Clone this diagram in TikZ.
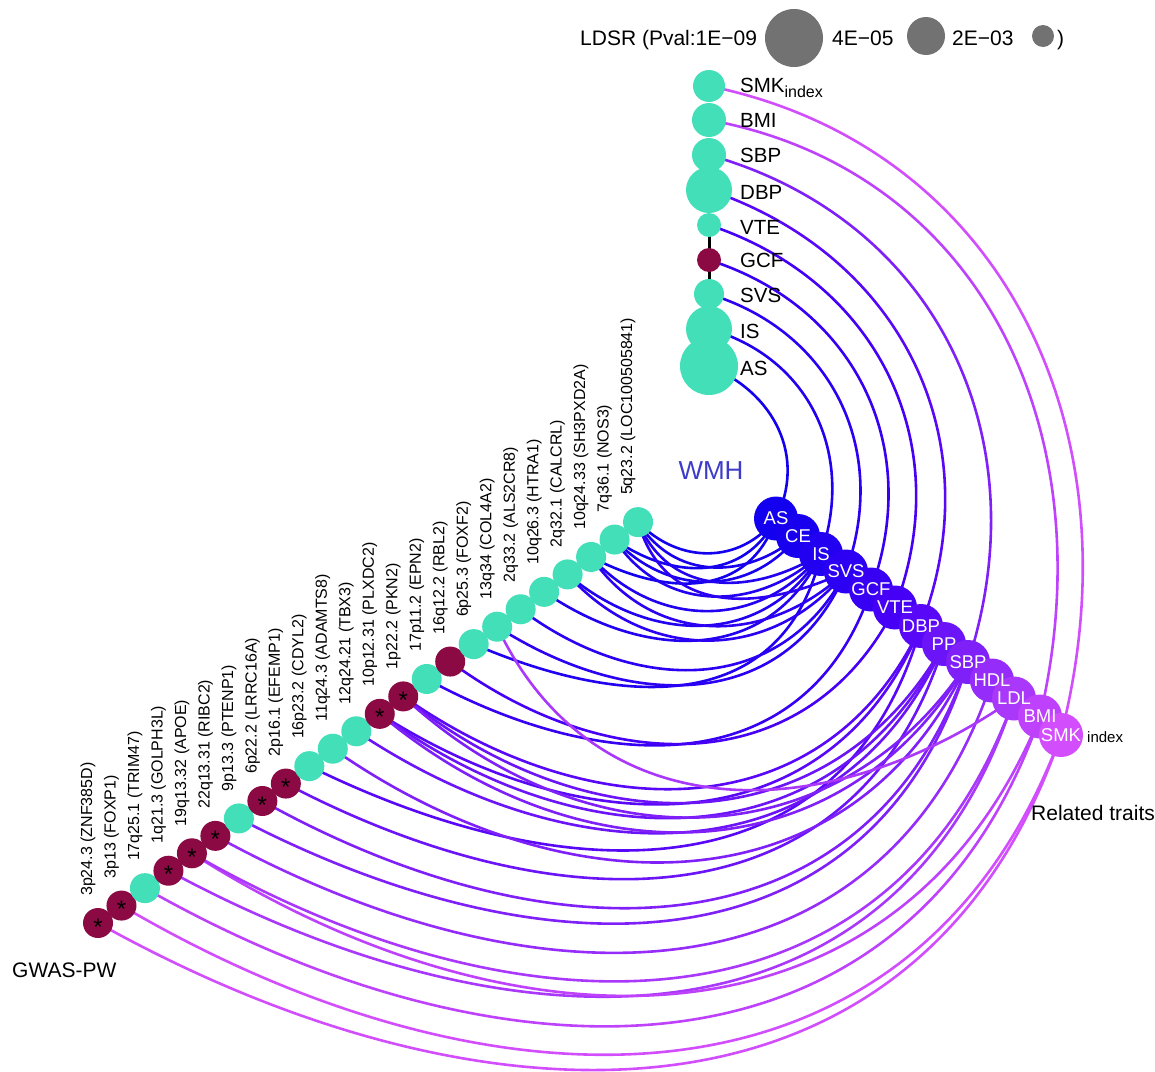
\documentclass[tikz,border=0pt]{standalone}
\usepackage{fontspec}
\setmainfont{Liberation Sans}
\usetikzlibrary{calc}
\pgfdeclarelayer{bg}
\pgfsetlayers{bg,main}
\definecolor{tq}{HTML}{42DFB9}
\definecolor{mr}{HTML}{8B0A43}
\definecolor{lg}{HTML}{727272}
\definecolor{wmh}{HTML}{3C3CC8}
\definecolor{cAS}{HTML}{1200EE}
\definecolor{cCE}{HTML}{1800EF}
\definecolor{cIS}{HTML}{2200F0}
\definecolor{cSVS}{HTML}{2C00F2}
\definecolor{cGCF}{HTML}{3800F3}
\definecolor{cVTE}{HTML}{4600F5}
\definecolor{cDBP}{HTML}{5808F7}
\definecolor{cPP}{HTML}{6C14F8}
\definecolor{cSBP}{HTML}{8020F9}
\definecolor{cHDL}{HTML}{962CFA}
\definecolor{cLDL}{HTML}{AA38FB}
\definecolor{cBMI}{HTML}{BE42FC}
\definecolor{cSMK}{HTML}{D24EFD}
\newcommand\fsz[1]{\fontsize{#1}{#1}\selectfont}
% hive edge: #1 factor, #2 source, #3 target, #4 colour
\newcommand\hedge[4]{%
  \draw[edge,draw=#4] let \p1=($(#2)-(C)$), \p2=($(#3)-(C)$),
    \n1={atan2(\y1,\x1)}, \n2={atan2(\y2,\x2)},
    \n3={#1*(veclen(\x1,\y1)+veclen(\x2,\y2))/2},
    \n4={(\n2-\n1)/3}
  in (#2.center) .. controls ($(C)+({\n1+\n4}:{\n3})$) and ($(C)+({\n2-\n4}:{\n3})$) .. (#3.center);%
}
\begin{document}
\begin{tikzpicture}[x=1pt,y=1pt,
  lnode/.style={circle,inner sep=0pt,minimum size=30pt},
  tqn/.style={lnode,fill=tq},
  mrn/.style={lnode,fill=mr},
  rnode/.style={circle,inner sep=0pt,minimum size=44pt},
  rlab/.style={inner sep=0pt,text=white,font=\fsz{18.5}},
  cnode/.style={circle,inner sep=0pt,fill=tq,minimum size=#1},
  clab/.style={anchor=base west,inner sep=0pt,font=\fsz{20.5}},
  llab/.style={rotate=90,anchor=west,inner sep=0pt,font=\fsz{16}},
  starmark/.style={anchor=base,inner sep=0pt,font=\fsz{24}},
  edge/.style={line width=2.6pt},
  legc/.style={circle,inner sep=0pt,fill=lg,minimum size=#1},
  legt/.style={anchor=base west,inner sep=0pt,font=\fsz{21}},
  bigt/.style={anchor=base west,inner sep=0pt,font=\fsz{21}}]
\useasboundingbox (0,0) rectangle (1155,-1071);
\coordinate (C) at (710,-464);

% legend
\node[legt] (ldsr) at (580,-45) {LDSR (Pval:1E−09};
\node[legc=58pt] (lg1) at (794,-38) {};
\node[legt] (lt2) at (832,-45) {4E−05};
\node[legc=38pt] (lg2) at (926,-36) {};
\node[legt] (lt3) at (952,-45) {2E−03};
\node[legc=22pt] (lg3) at (1043,-36) {};
\node[legt] (lt4) at (1057,-45) {)};

% top (LDSR) axis
\node[cnode=32pt] (tSMK) at (709,-86) {};
\node[cnode=34pt] (tBMI) at (709,-120) {};
\node[cnode=34pt] (tSBP) at (709,-155) {};
\node[cnode=46pt] (tDBP) at (709,-190) {};
\node[cnode=24pt] (tVTE) at (709,-225) {};
\node[circle,inner sep=0pt,fill=mr,minimum size=24pt] (tGCF) at (709,-260) {};
\node[cnode=30pt] (tSVS) at (709,-294) {};
\node[cnode=46pt] (tIS) at (709,-329) {};
\node[cnode=58pt] (tAS) at (709,-366) {};
\node[clab] (ltSMK) at (740,-92) {SMK\raisebox{-5pt}{\fsz{16}index}};
\node[clab] (ltBMI) at (740,-127) {BMI};
\node[clab] (ltSBP) at (740,-162) {SBP};
\node[clab] (ltDBP) at (740,-199) {DBP};
\node[clab] (ltVTE) at (740,-234) {VTE};
\node[clab] (ltGCF) at (740,-267) {GCF};
\node[clab] (ltSVS) at (740,-302) {SVS};
\node[clab] (ltIS) at (740,-338) {IS};
\node[clab] (ltAS) at (740,-375) {AS};

% right (related traits) axis: circles first, then white labels on top
\foreach \n/\x/\y in {AS/776/518.5, CE/798/536, IS/821/554, SVS/846/571.5,
  GCF/871/589.5, VTE/895/607.5, DBP/921/626, PP/944/644, SBP/968/662,
  HDL/992/680.5, LDL/1014/698.5, BMI/1040/716.5, SMK/1061/735}
  \node[rnode,fill=c\n] (r\n) at (\x,-\y) {};
\foreach \n in {AS,CE,IS,SVS,GCF,VTE,DBP,PP,SBP,HDL,LDL,BMI,SMK}
  \node[rlab] (r\n-l) at (r\n) {\n};
\node[anchor=base west,inner sep=0pt,font=\fsz{15}] (smkidx) at (1087,-742) {index};

% left (GWAS-PW) axis
\foreach \i/\s/\t in {
  1/mrn/{3p24.3 (ZNF385D)}, 2/mrn/{3p13 (FOXP1)}, 3/tqn/{17q25.1 (TRIM47)},
  4/mrn/{1q21.3 (GOLPH3L)}, 5/mrn/{19q13.32 (APOE)}, 6/mrn/{22q13.31 (RIBC2)},
  7/tqn/{9p13.3 (PTENP1)}, 8/mrn/{6p22.2 (LRRC16A)}, 9/mrn/{2p16.1 (EFEMP1)},
  10/tqn/{16p23.2 (CDYL2)}, 11/tqn/{11q24.3 (ADAMTS8)}, 12/tqn/{12q24.21 (TBX3)},
  13/mrn/{10p12.31 (PLXDC2)}, 14/mrn/{1p22.2 (PKN2)}, 15/tqn/{17p11.2 (EPN2)},
  16/mrn/{16q12.2 (RBL2)}, 17/tqn/{6p25.3 (FOXF2)}, 18/tqn/{13q34 (COL4A2)},
  19/tqn/{2q33.2 (ALS2CR8)}, 20/tqn/{10q26.3 (HTRA1)}, 21/tqn/{2q32.1 (CALCRL)},
  22/tqn/{10q24.33 (SH3PXD2A)}, 23/tqn/{7q36.1 (NOS3)}, 24/tqn/{5q23.2 (LOC100505841)}}{
  \node[\s] (L\i) at ({98+23.48*(\i-1)},{-923+17.43*(\i-1)}) {};
  \node[llab] (lab\i) at ($(L\i)+(-10,27)$) {\t};
}
\foreach \i in {1,2,4,5,6,8,9,13,14}
  \node[starmark] (st\i) at ($(L\i)+(0,-12)$) {*};

% titles
\node[inner sep=0pt,font=\fsz{26},text=wmh] (wmh) at (711,-471) {WMH};
\node[bigt] (gwas) at (12,-977) {GWAS-PW};
\node[bigt] (rel) at (1031,-820) {Related traits};

\begin{pgfonlayer}{bg}
  \draw[line width=3pt] (tVTE.center) -- (tSVS.center);
  % LDSR edges
  \hedge{1.05}{tSMK}{rSMK}{cSMK}
  \hedge{1.05}{tBMI}{rBMI}{cBMI}
  \hedge{1.05}{tSBP}{rSBP}{cSBP}
  \hedge{1.05}{tDBP}{rDBP}{cDBP}
  \hedge{1.05}{tVTE}{rVTE}{cVTE}
  \hedge{1.05}{tGCF}{rGCF}{cGCF}
  \hedge{1.05}{tSVS}{rSVS}{cSVS}
  \hedge{1.05}{tIS}{rIS}{cIS}
  \hedge{1.05}{tAS}{rAS}{cAS}
  % GWAS-PW edges
  \hedge{1.18}{L1}{rSMK}{cSMK}
  \hedge{1.18}{L2}{rSMK}{cSMK}
  \hedge{1.18}{L3}{rBMI}{cBMI}
  \hedge{1.18}{L4}{rLDL}{cLDL}
  \hedge{1.18}{L5}{rBMI}{cBMI}
  \hedge{1.18}{L5}{rLDL}{cLDL}
  \hedge{1.18}{L6}{rHDL}{cHDL}
  \hedge{1.18}{L7}{rSBP}{cSBP}
  \hedge{1.18}{L8}{rSBP}{cSBP}
  \hedge{1.18}{L9}{rPP}{cPP}
  \hedge{1.18}{L10}{rDBP}{cDBP}
  \hedge{1.18}{L11}{rSBP}{cSBP}
  \hedge{1.18}{L12}{rPP}{cPP}
  \hedge{1.18}{L13}{rDBP}{cDBP}
  \hedge{1.18}{L13}{rPP}{cPP}
  \hedge{1.18}{L13}{rSBP}{cSBP}
  \hedge{1.18}{L14}{rDBP}{cDBP}
  \hedge{1.18}{L14}{rPP}{cPP}
  \hedge{1.18}{L14}{rSBP}{cSBP}
  \hedge{1.18}{L15}{rGCF}{cGCF}
  \hedge{1.18}{L16}{rVTE}{cVTE}
  \hedge{1.18}{L17}{rIS}{cIS}
  \hedge{1.18}{L18}{rSVS}{cSVS}
  \hedge{1.18}{L18}{rLDL}{cLDL}
  \hedge{1.18}{L19}{rSVS}{cSVS}
  \hedge{1.18}{L20}{rIS}{cIS}
  \hedge{1.18}{L21}{rIS}{cIS}
  \hedge{1.18}{L21}{rSVS}{cSVS}
  \hedge{1.18}{L22}{rAS}{cAS}
  \hedge{1.18}{L22}{rIS}{cIS}
  \hedge{1.18}{L22}{rSVS}{cSVS}
  \hedge{1.18}{L23}{rAS}{cAS}
  \hedge{1.18}{L23}{rCE}{cCE}
  \hedge{1.18}{L23}{rIS}{cIS}
  \hedge{1.18}{L24}{rAS}{cAS}
  \hedge{1.18}{L24}{rCE}{cCE}
  \hedge{1.18}{L24}{rIS}{cIS}
  \hedge{1.18}{L24}{rSVS}{cSVS}
\end{pgfonlayer}
\end{tikzpicture}
\end{document}
